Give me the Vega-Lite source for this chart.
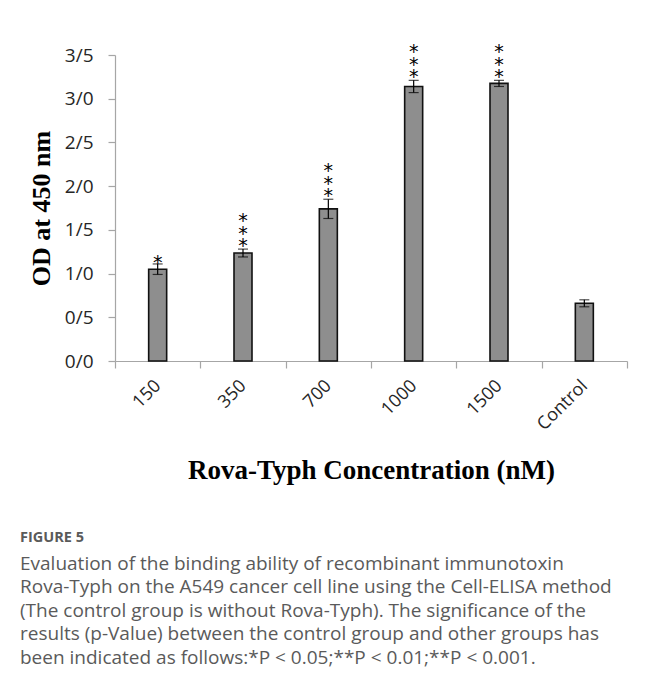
{
  "$schema": "https://vega.github.io/schema/vega-lite/v6.json",
  "width": 512,
  "height": 306,
  "autosize": "none",
  "padding": {"left": 115, "top": 55, "right": 19, "bottom": 314},
  "background": "white",
  "config": {
    "view": {"stroke": null},
    "axis": {
      "domainColor": "#a6a6a6",
      "tickColor": "#a6a6a6",
      "domainWidth": 1.2,
      "tickWidth": 1.2,
      "tickSize": 7,
      "grid": false,
      "labelFont": "Open Sans",
      "labelFontSize": 18,
      "labelColor": "#262626",
      "titleFont": "Liberation Serif",
      "titleFontWeight": "bold",
      "titleFontSize": 26,
      "titleColor": "#000000"
    }
  },
  "title": {
    "text": "FIGURE 5",
    "subtitle": [
      "Evaluation of the binding ability of recombinant immunotoxin",
      "Rova-Typh on the A549 cancer cell line using the Cell-ELISA method",
      "(The control group is without Rova-Typh). The significance of the",
      "results (p-Value) between the control group and other groups has",
      "been indicated as follows:*P < 0.05;**P < 0.01;**P < 0.001."
    ],
    "orient": "bottom",
    "anchor": "start",
    "frame": "group",
    "dx": -95,
    "offset": 48,
    "font": "Open Sans",
    "fontSize": 14.5,
    "fontWeight": "bold",
    "color": "#5a5a5a",
    "subtitleFont": "Open Sans",
    "subtitleFontSize": 19,
    "subtitleColor": "#5a5a5a",
    "subtitleLineHeight": 23.5,
    "subtitlePadding": 9
  },
  "data": {
    "values": [
      {"group": "150", "value": 1.05, "lo": 0.99, "hi": 1.11, "stars": "*"},
      {"group": "350", "value": 1.235, "lo": 1.19, "hi": 1.28, "stars": "*\n*\n*"},
      {"group": "700", "value": 1.74, "lo": 1.63, "hi": 1.85, "stars": "*\n*\n*"},
      {"group": "1000", "value": 3.14, "lo": 3.07, "hi": 3.21, "stars": "*\n*\n*"},
      {"group": "1500", "value": 3.175, "lo": 3.14, "hi": 3.21, "stars": "*\n*\n*"},
      {"group": "Control", "value": 0.66, "lo": 0.62, "hi": 0.7, "stars": ""}
    ]
  },
  "encoding": {
    "x": {
      "field": "group",
      "type": "nominal",
      "sort": null,
      "scale": {"paddingInner": 0, "paddingOuter": 0},
      "axis": {
        "title": "Rova-Typh Concentration (nM)",
        "titleFontSize": 27,
        "labelAngle": -45,
        "labelAlign": "right",
        "labelBaseline": "middle",
        "labelPadding": 15,
        "tickBand": "extent",
        "titlePadding": 24
      }
    }
  },
  "layer": [
    {
      "mark": {"type": "bar", "size": 18, "fill": "#8e8e8e", "stroke": "#111111", "strokeWidth": 1.6},
      "encoding": {
        "y": {
          "field": "value",
          "type": "quantitative",
          "scale": {"domain": [0, 3.5], "nice": false},
          "axis": {
            "title": "OD at 450 nm",
            "values": [0, 0.5, 1, 1.5, 2, 2.5, 3, 3.5],
            "labelExpr": "replace(format(datum.value, '.1f'), '.', '/')",
            "labelFontSize": 19,
            "labelPadding": 15,
            "titlePadding": 10
          }
        }
      }
    },
    {
      "mark": {"type": "rule", "color": "#000000", "strokeWidth": 1.2},
      "encoding": {
        "y": {"field": "lo", "type": "quantitative"},
        "y2": {"field": "hi"}
      }
    },
    {
      "mark": {"type": "tick", "orient": "horizontal", "size": 10, "thickness": 1.2, "color": "#000000"},
      "encoding": {"y": {"field": "lo", "type": "quantitative"}}
    },
    {
      "mark": {"type": "tick", "orient": "horizontal", "size": 10, "thickness": 1.2, "color": "#000000"},
      "encoding": {"y": {"field": "hi", "type": "quantitative"}}
    },
    {
      "transform": [{"filter": "datum.stars == '*'"}],
      "mark": {"type": "text", "font": "DejaVu Sans", "fontSize": 19, "baseline": "alphabetic", "dy": 5, "color": "#000000"},
      "encoding": {
        "y": {"field": "hi", "type": "quantitative"},
        "text": {"field": "stars"}
      }
    },
    {
      "transform": [{"filter": "length(datum.stars) > 1"}],
      "mark": {"type": "text", "font": "DejaVu Sans", "fontSize": 19, "lineBreak": "\n", "lineHeight": 12.5, "baseline": "alphabetic", "dy": -22, "color": "#000000"},
      "encoding": {
        "y": {"field": "hi", "type": "quantitative"},
        "text": {"field": "stars"}
      }
    }
  ]
}
